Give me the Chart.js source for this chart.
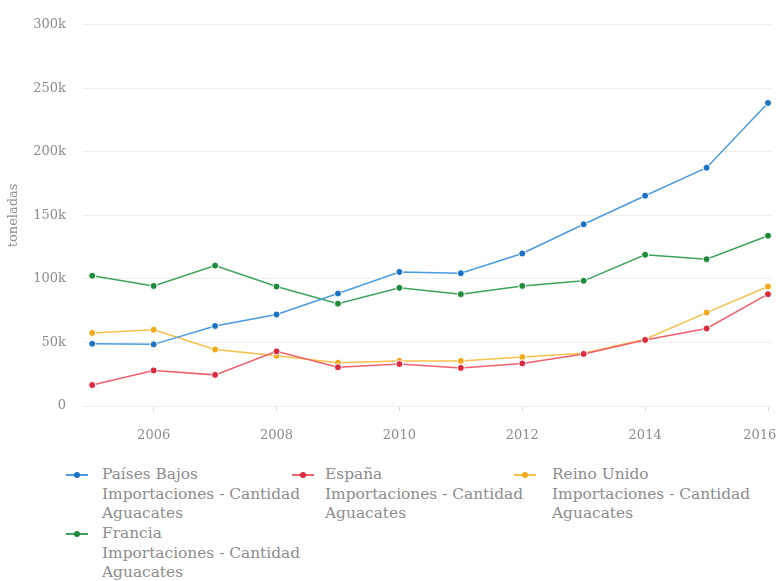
<!DOCTYPE html>
<html>
<head>
<meta charset="utf-8">
<script src="https://cdn.jsdelivr.net/npm/chart.js@4/dist/chart.umd.min.js"></script>
<style>
html,body{margin:0;padding:0;background:#fff;width:781px;height:581px;overflow:hidden;}
#wrap{position:absolute;left:0;top:0;width:781px;height:450px;}
.leg{position:absolute;font-family:"DejaVu Serif";font-size:15.4px;line-height:19.5px;color:#8c8c8c;white-space:nowrap;}
.mk{position:absolute;width:22px;height:2px;}
.dot{position:absolute;width:6px;height:6px;border-radius:50%;left:8px;top:-2px;}
</style>
</head>
<body>
<div id="wrap"><canvas id="c" width="781" height="450"></canvas></div>
<div id="legend"></div>
<script>
// ---- data ----
const years = [2005, 2006, 2007, 2008, 2009, 2010, 2011, 2012, 2013, 2014, 2015, 2016];
const seriesNames = ["Países Bajos", "España", "Reino Unido", "Francia"];
const seriesSuffix = ["Importaciones - Cantidad", "Aguacates"];
const paisesBajos = [49000, 48500, 63000, 72000, 88500, 105500, 104500, 120000, 143000, 165500, 187500, 238500];
const espana      = [16500, 28000, 24500, 43000, 30500, 33000, 30000, 33500, 41000, 52000, 61000, 88000];
const reinoUnido  = [57500, 60000, 44500, 39500, 34000, 35500, 35500, 38500, 41500, 52500, 73500, 94000];
const francia     = [102500, 94500, 110500, 94000, 80500, 93000, 88000, 94500, 98500, 119000, 115500, 134000];
const xTicks = [2006, 2008, 2010, 2012, 2014, 2016];
const yTickStep = 50000;
const yMax = 300000;
const yTitle = "toneladas";

// ---- styles ----
const lineColors  = ["#4a9be0", "#f0606c", "#f7c04a", "#3ba35c"];
const pointColors = ["#1c72c4", "#dc2a40", "#f2a91a", "#1f8a3c"];
const textColor = "#8c8c8c";
const fontFamily = "DejaVu Serif";

const seriesValues = [paisesBajos, espana, reinoUnido, francia];
const datasets = seriesNames.map((name, i) => ({
  label: name,
  data: years.map((y, j) => ({x: y, y: seriesValues[i][j]})),
  borderColor: lineColors[i],
  backgroundColor: pointColors[i],
  pointBackgroundColor: pointColors[i],
  pointBorderColor: "#ffffff",
  pointBorderWidth: 1,
  pointRadius: 3.5,
  borderWidth: 1.5,
  tension: 0,
  fill: false
}));

const chart = new Chart(document.getElementById("c"), {
  type: "line",
  data: { datasets },
  options: {
    responsive: false,
    devicePixelRatio: 1,
    animation: false,
    layout: { padding: { top: 23, right: 9, left: 0, bottom: 0 } },
    plugins: { legend: { display: false }, tooltip: { enabled: false } },
    scales: {
      x: {
        type: "linear",
        min: 2004.85,
        max: 2016.065,
        afterBuildTicks: (s) => { s.ticks = xTicks.map(v => ({ value: v })); },
        afterFit: (s) => { s.height = 44; s.paddingLeft = 0; s.paddingRight = 0; },
        ticks: {
          autoSkip: false, maxRotation: 0, padding: 17,
          color: textColor, font: { family: fontFamily, size: 13 },
          callback: (v) => (v === xTicks[xTicks.length - 1] ? String(v) + "\u00a0\u00a0\u00a0\u00a0" : String(v))
        },
        grid: { drawOnChartArea: false, drawTicks: true, tickLength: 5, color: "#dddddd" },
        border: { display: false }
      },
      y: {
        min: 0, max: yMax,
        afterFit: (s) => { s.width = 83; },
        ticks: {
          stepSize: yTickStep, padding: 17,
          color: textColor, font: { family: fontFamily, size: 13 },
          callback: (v) => (v === 0 ? "0" : (v / 1000) + "k")
        },
        grid: { color: "#efefef", drawTicks: false },
        border: { display: false },
        title: { display: true, text: yTitle, color: textColor, font: { family: fontFamily, size: 13 }, padding: { top: 6, bottom: 0 } }
      }
    }
  }
});

// ---- HTML legend built from chart datasets ----
const legPos = [
  { text: 102, dot: 76.5, top: 465 },
  { text: 325, dot: 303, top: 465 },
  { text: 552, dot: 525, top: 465 },
  { text: 102, dot: 76.5, top: 524 }
];
const legend = document.getElementById("legend");
chart.data.datasets.forEach((ds, i) => {
  const p = legPos[i];
  const mk = document.createElement("div");
  mk.className = "mk";
  mk.style.left = (p.dot - 11) + "px";
  mk.style.top = (p.top + 9) + "px";
  mk.style.background = ds.borderColor;
  const dot = document.createElement("div");
  dot.className = "dot";
  dot.style.background = ds.pointBackgroundColor;
  mk.appendChild(dot);
  legend.appendChild(mk);
  const t = document.createElement("div");
  t.className = "leg";
  t.style.left = p.text + "px";
  t.style.top = p.top + "px";
  [ds.label].concat(seriesSuffix).forEach(line => {
    const d = document.createElement("div");
    d.textContent = line;
    t.appendChild(d);
  });
  legend.appendChild(t);
});
</script>
</body>
</html>
